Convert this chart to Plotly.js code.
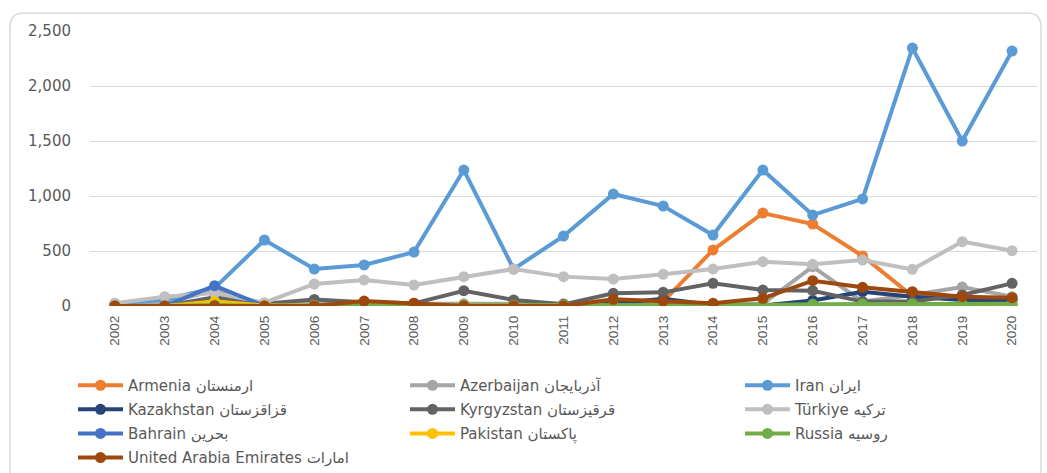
<!DOCTYPE html>
<html>
<head>
<meta charset="utf-8">
<script src="https://cdn.plot.ly/plotly-3.0.1.min.js"></script>
<style>
  html, body { margin: 0; padding: 0; background: #fff; }
  #chart { width: 1047px; height: 473px; }
</style>
</head>
<body>
<div id="chart"></div>
<script>
const years = ['2002','2003','2004','2005','2006','2007','2008','2009','2010','2011','2012','2013','2014','2015','2016','2017','2018','2019','2020'];

const armenia    = [0, 0, 0, 0, 0, 0, 0, 0, 0, 0, 0, 40, 510, 845, 745, 455, 90, 70, 65];
const azerbaijan = [10, 30, 140, 20, 20, 20, 20, 20, 20, 20, 20, 20, 20, 20, 357, 40, 100, 172, 85];
const iran       = [20, 60, 165, 600, 336, 373, 490, 1236, 336, 636, 1018, 909, 645, 1236, 827, 973, 2345, 1500, 2318];
const kazakhstan = [0, 0, 0, 0, 0, 0, 0, 0, 0, 0, 20, 65, 10, 5, 50, 130, 85, 55, 55];
const kyrgyzstan = [0, 0, 80, 20, 60, 35, 24, 139, 55, 15, 115, 124, 206, 145, 139, 40, 40, 100, 206];
const turkiye    = [25, 85, 118, 30, 200, 236, 191, 267, 336, 267, 245, 288, 336, 403, 379, 418, 333, 585, 503];
const bahrain    = [0, 0, 185, 0, 0, 0, 0, 0, 0, 0, 0, 0, 0, 0, 0, 0, 0, 0, 0];
const pakistan   = [0, 0, 40, 5, 5, 5, 5, 5, 5, 5, 0, 0, 0, 0, 0, 0, 0, 0, 0];
const russia     = [0, 0, 10, 0, 5, 5, 10, 10, 5, 10, 5, 5, 5, 10, 15, 18, 18, 20, 20];
const uae        = [0, 0, 0, 0, 0, 45, 25, 0, 0, 0, 61, 45, 24, 70, 230, 170, 130, 85, 76];

const seriesNames = [
  'Armenia ارمنستان',
  'Azerbaijan آذربایجان',
  'Iran ایران',
  'Kazakhstan قزاقزستان',
  'Kyrgyzstan قرقیزستان',
  'Türkiye ترکیه',
  'Bahrain بحرین',
  'Pakistan پاکستان',
  'Russia روسیه',
  'United Arabia Emirates امارات'
];
const seriesValues = [armenia, azerbaijan, iran, kazakhstan, kyrgyzstan, turkiye, bahrain, pakistan, russia, uae];
const seriesColors = ['#ED7D31', '#A5A5A5', '#5B9BD5', '#264478', '#636363', '#BFBFBF', '#4472C4', '#FFC000', '#70AD47', '#9E480E'];
const legendColumn = ['legend', 'legend2', 'legend3', 'legend', 'legend2', 'legend3', 'legend', 'legend2', 'legend3', 'legend'];

const traces = seriesNames.map((name, i) => ({
  type: 'scatter',
  mode: 'lines+markers',
  name: name,
  legend: legendColumn[i],
  legendgroup: 'g' + i,
  x: years,
  y: seriesValues[i],
  line: { color: seriesColors[i], width: 4 },
  marker: { color: seriesColors[i], size: 11 },
  hoverinfo: 'x+y+name'
}));

const W = 1047, H = 473;
const M = { l: 90, r: 10, t: 31, b: 167, autoexpand: false };
const pw = W - M.l - M.r, ph = H - M.t - M.b;
function px(x) { return (x - M.l) / pw; }
function py(y) { return (H - M.b - y) / ph; }

// rounded outer frame
const fx0 = 10, fy0 = 13, fx1 = 1041, fy1 = 480, r = 14;
const framePath =
  'M' + px(fx0) + ',' + py(fy0 + r) +
  ' Q' + px(fx0) + ',' + py(fy0) + ' ' + px(fx0 + r) + ',' + py(fy0) +
  ' L' + px(fx1 - r) + ',' + py(fy0) +
  ' Q' + px(fx1) + ',' + py(fy0) + ' ' + px(fx1) + ',' + py(fy0 + r) +
  ' L' + px(fx1) + ',' + py(fy1) +
  ' M' + px(fx0) + ',' + py(fy0 + r) +
  ' L' + px(fx0) + ',' + py(fy1);

function legendAt(xpx) {
  return {
    orientation: 'v',
    xref: 'paper', yref: 'paper',
    x: px(xpx), y: py(369),
    xanchor: 'left', yanchor: 'top',
    itemwidth: 45,
    tracegroupgap: 1.6,
    font: { family: 'DejaVu Sans, sans-serif', size: 15, color: '#595959' },
    bgcolor: 'rgba(0,0,0,0)',
    traceorder: 'grouped'
  };
}

const layout = {
  width: W, height: H,
  margin: M,
  paper_bgcolor: '#ffffff',
  plot_bgcolor: '#ffffff',
  font: { family: 'DejaVu Sans, sans-serif', color: '#595959', size: 14 },
  showlegend: true,
  legend: legendAt(73),
  legend2: legendAt(405),
  legend3: legendAt(740),
  xaxis: {
    type: 'category',
    range: [-0.5, 18.5],
    tickangle: -90,
    showgrid: false,
    zeroline: false,
    showline: false,
    ticks: '',
    automargin: false,
    ticklabelstandoff: 6,
    tickfont: { family: 'Liberation Sans, sans-serif', size: 13.5, color: '#595959' },
    fixedrange: true
  },
  yaxis: {
    range: [0, 2500],
    dtick: 500,
    tickformat: ',',
    showgrid: true,
    gridcolor: '#D9D9D9',
    gridwidth: 1,
    zeroline: false,
    showline: false,
    ticks: '',
    automargin: false,
    ticklabelstandoff: 18,
    tickfont: { family: 'DejaVu Sans, sans-serif', size: 15, color: '#595959' },
    fixedrange: true
  },
  shapes: [{
    type: 'path',
    xref: 'paper', yref: 'paper',
    path: framePath,
    line: { color: '#D9D9D9', width: 1.5 },
    layer: 'below'
  }]
};

Plotly.newPlot('chart', traces, layout, { displayModeBar: false, staticPlot: true });
</script>
</body>
</html>
